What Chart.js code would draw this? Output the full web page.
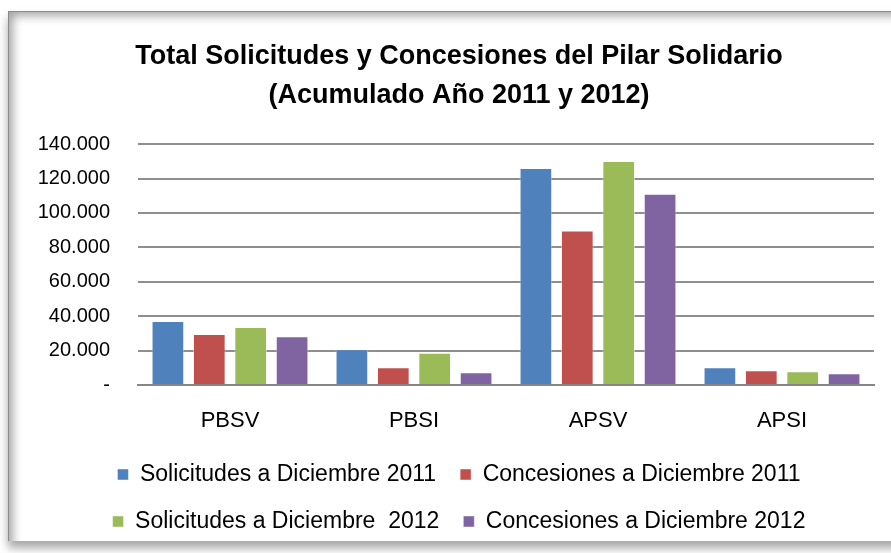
<!DOCTYPE html>
<html lang="es">
<head>
    <meta charset="UTF-8">
    <title>Total Solicitudes y Concesiones del Pilar Solidario</title>
    <style>
        html, body { margin: 0; padding: 0; background: #fff; }
        #wrap { position: relative; width: 891px; height: 553px; overflow: hidden; background: #fff; }
        #frame {
            position: absolute; left: 8px; top: 11px; width: 900px; height: 529px;
            border-left: 1px solid #8a8a8a; border-top: 1px solid #8a8a8a;
            box-shadow: inset 9px 9px 10px -5px rgba(0,0,0,0.35), 0 7px 9px rgba(0,0,0,0.35);
            background: #fff;
        }
        #myChart { position: absolute; left: 0; top: 0; }
    </style>
</head>
<body>
    <div id="wrap">
        <div id="frame"></div>
        <canvas id="myChart" width="891" height="553"></canvas>
    </div>
    <script src="https://cdn.jsdelivr.net/npm/chart.js"></script>
    <script>
        const categories = ['PBSV', 'PBSI', 'APSV', 'APSI'];
        const seriesNames = [
            'Solicitudes a Diciembre 2011',
            'Concesiones a Diciembre 2011',
            'Solicitudes a Diciembre  2012',
            'Concesiones a Diciembre 2012'
        ];
        const sol2011 = [37200, 20800, 126200, 10300];
        const con2011 = [29700, 10300, 89800, 8600];
        const sol2012 = [33700, 18800, 130200, 8000];
        const con2012 = [28300, 7400, 111100, 6800];
        const colors = ['#4F81BD', '#C0504D', '#9BBB59', '#8064A2'];

        const fontFamily = "'Liberation Sans', Arial, sans-serif";

        function formatTick(value) {
            if (value === 0) return '-';
            return String(value).replace(/\B(?=(\d{3})+(?!\d))/g, '.');
        }

        const allSeries = [sol2011, con2011, sol2012, con2012];
        const datasets = allSeries.map((values, i) => ({
            label: seriesNames[i],
            data: values,
            backgroundColor: colors[i],
            borderColor: 'rgba(255,255,255,0.45)',
            borderWidth: 1,
            categoryPercentage: 0.9,
            barPercentage: 0.79
        }));

        new Chart(document.getElementById('myChart'), {
            type: 'bar',
            data: { labels: categories, datasets: datasets },
            options: {
                responsive: false,
                animation: false,
                // asymmetric padding so title and legend sit where the original has them
                layout: { padding: { left: 33, right: 6, top: 0, bottom: 10 } },
                plugins: {
                    title: {
                        display: true,
                        text: ['Total Solicitudes y Concesiones del Pilar Solidario', '(Acumulado Año 2011 y 2012)'],
                        color: '#000',
                        font: { family: fontFamily, size: 27, weight: 'bold', lineHeight: 1.41 },
                        padding: { top: 38, bottom: 30 }
                    },
                    legend: {
                        position: 'bottom',
                        labels: {
                            color: '#000',
                            font: { family: fontFamily, size: 23 },
                            boxWidth: 11,
                            boxHeight: 11,
                            padding: 24
                        }
                    },
                    tooltip: { enabled: false }
                },
                scales: {
                    x: {
                        grid: { display: false, drawTicks: false },
                        border: { display: true, color: '#868686', width: 2 },
                        ticks: { color: '#000', font: { family: fontFamily, size: 22 }, padding: 23 },
                        afterFit: (scale) => { scale.width = scale.width; scale.height = 54; }
                    },
                    y: {
                        min: 0,
                        max: 140000,
                        grid: { color: '#8e8e8e', lineWidth: 2, drawTicks: false },
                        border: { display: false },
                        ticks: {
                            stepSize: 20000,
                            color: '#000',
                            font: { family: fontFamily, size: 20 },
                            padding: 28,
                            callback: (v) => formatTick(v)
                        },
                        afterFit: (scale) => { scale.width = 105; }
                    },
                    // empty spacer on the right so the plot ends where the original does
                    yRight: {
                        position: 'right',
                        grid: { display: false, drawTicks: false },
                        border: { display: false },
                        ticks: { display: false },
                        afterFit: (scale) => { scale.width = 11; }
                    }
                }
            }
        });
    </script>
</body>
</html>
